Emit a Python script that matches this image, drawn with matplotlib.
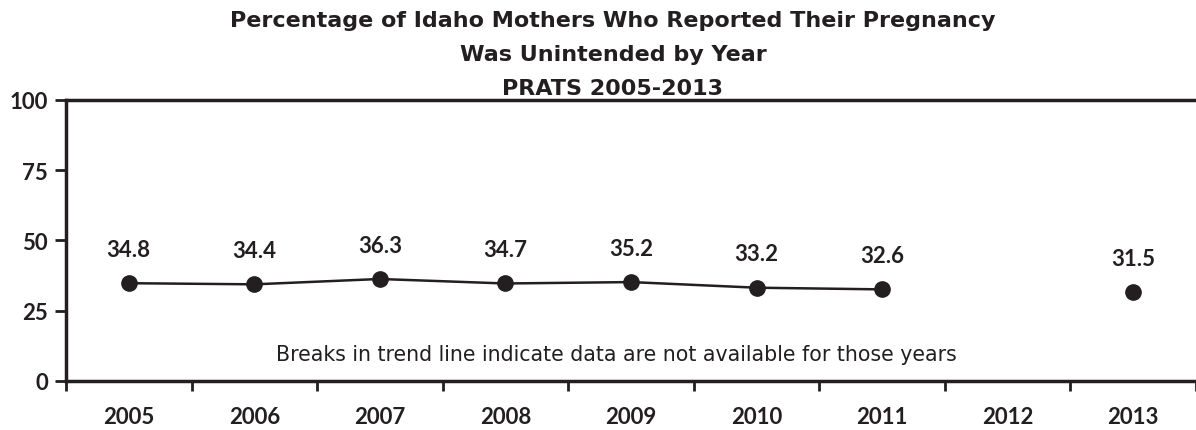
import numpy as np
import matplotlib.pyplot as plt

years = ['2005', '2006', '2007', '2008', '2009', '2010', '2011', '2012', '2013']
pct = [34.8, 34.4, 36.3, 34.7, 35.2, 33.2, 32.6, np.nan, 31.5]
title_lines = ['Percentage of Idaho Mothers Who Reported Their Pregnancy',
               'Was Unintended by Year',
               'PRATS 2005-2013']
note = 'Breaks in trend line indicate data are not available for those years'

dark = '#231f20'
plt.rcParams['font.family'] = ['Lato', 'DejaVu Sans']

fig = plt.figure(figsize=(11.96, 4.31), dpi=100)
ax = fig.add_axes([0.0552, 0.1137, 0.9448, 0.652])

x = np.arange(len(years)) + 0.5
ax.plot(x, pct, color=dark, lw=1.8, marker='o', markersize=11, zorder=3)
for xi, v in zip(x, pct):
    if not np.isnan(v):
        ax.text(xi, v + 12, f'{v:.1f}', ha='center', va='center', fontsize=16,
                fontweight='bold', color=dark)

ax.set_xlim(0, 9)
ax.set_ylim(0, 100)
ax.set_yticks([0, 25, 50, 75, 100])
ax.set_xticks(np.arange(0, 10))
ax.set_xticklabels([])
ax.set_xticks(x, minor=True)
ax.set_xticklabels(years, minor=True, fontsize=16, fontweight='bold', color=dark)
ax.tick_params(axis='x', which='minor', length=0, pad=18)
ax.tick_params(axis='x', which='major', length=7, width=2, color=dark)
ax.tick_params(axis='y', length=8, width=2, color=dark, labelsize=16, pad=5)
for lbl in ax.get_yticklabels():
    lbl.set_fontweight('bold')
    lbl.set_color(dark)

for s in ['left', 'bottom', 'top']:
    ax.spines[s].set_linewidth(2.5)
    ax.spines[s].set_color(dark)
ax.spines['right'].set_visible(False)

ax.text(4.38, 9.6, note, ha='center', va='center', fontsize=14.8,
        family='DejaVu Sans', color=dark)

for i, line in enumerate(title_lines):
    fig.text(0.5125, 1 - (21 + 34 * i) / 431, line, ha='center', va='center',
             fontsize=16, fontweight='bold', family='DejaVu Sans', color=dark)

fig.savefig('out.png', dpi=100)
